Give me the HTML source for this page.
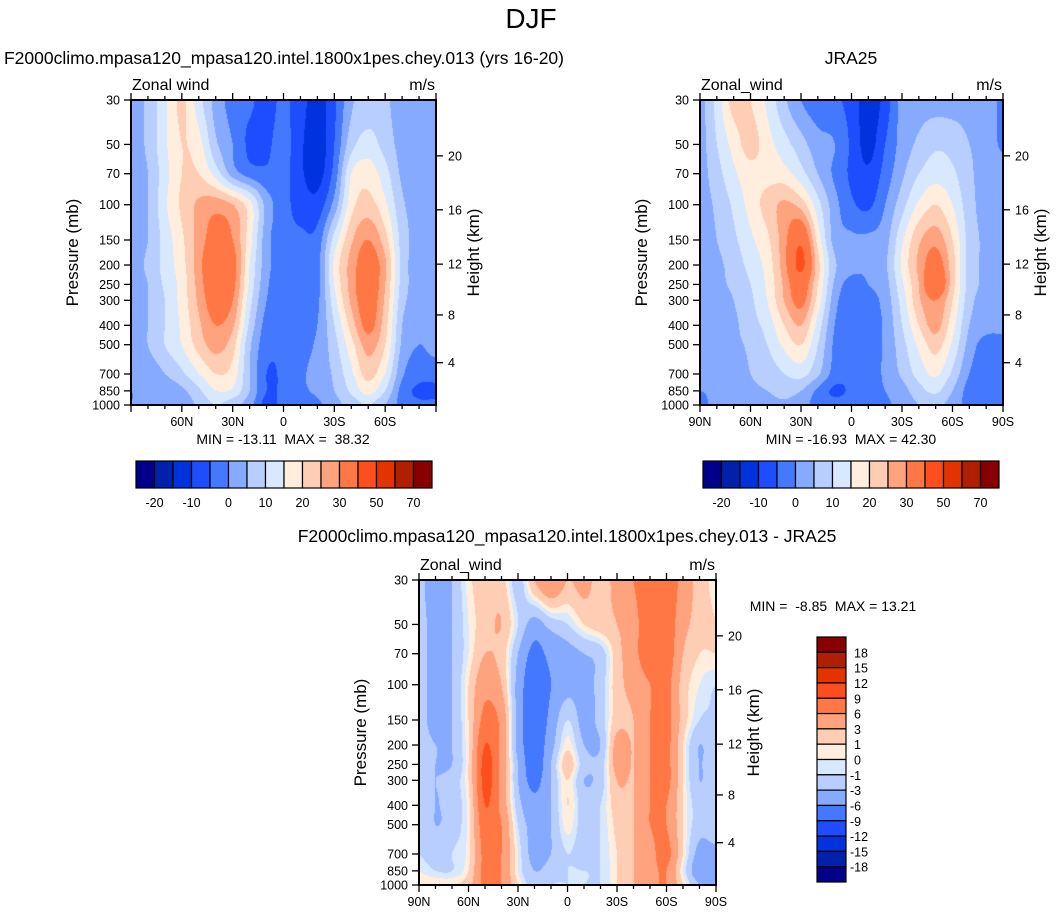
<!DOCTYPE html>
<html><head><meta charset="utf-8">
<style>
body{margin:0;background:#fff;width:1063px;height:915px;overflow:hidden;position:relative;font-family:"Liberation Sans",Arial,sans-serif;}
canvas{position:absolute;}
svg{position:absolute;left:0;top:0;}
text{white-space:pre;}
</style></head>
<body>
<canvas id="c1"></canvas>
<canvas id="c2"></canvas>
<canvas id="c3"></canvas>
<svg id="ov" width="1063" height="915"></svg>
<script>
const lats=[90,80,70,60,50,40,30,20,10,0,-10,-20,-30,-40,-50,-60,-70,-80,-90];
const plevels=[30,50,70,100,150,200,250,300,400,500,700,850,1000];
const modelRows=[
[3,6,14,21,12,3,-2,-4,-7,-4,-8,-12,-6,4,7,6,2,2,2],
[3,6,14,20,17,6,0,-6,-6,-3,-9,-13,-5,8,12,8,3,2,2],
[3,5,13,20,20,13,3,-2,-4,-3,-9,-12,-3,15,18,12,4,2,2],
[3,5,14,21,26,28,25,17,3,-3,-7,-8,2,18,22,16,6,3,3],
[3,5,12,19,27,33,30,17,2,-3,-4,-3,12,24,30,22,8,3,3],
[3,6,12,18,28,37,33,15,2,-3,-3,-2,16,27,34,26,8,3,3],
[3,5,11,17,27,36,32,14,1,-3,-3,-2,15,27,35,25,8,3,3],
[3,5,10,17,26,34,30,12,0,-3,-3,-1,13,26,34,24,7,3,3],
[2,5,10,16,24,30,26,9,-2,-3,-2,0,10,22,32,22,5,1,2],
[2,5,10,15,22,27,22,6,-3,-4,-2,1,8,18,27,20,4,0,2],
[1,2,5,9,15,20,18,5,-5,-4,-1,2,6,14,22,15,1,-3,-3],
[0,1,2,4,9,15,14,5,-5,-4,-1,1,5,11,17,10,-2,-6,-6],
[0,1,1,2,6,10,7,2,-7,-3,-2,-1,3,7,10,5,-2,-4,-4]];
const jraRows=[
[3,12,22,20,14,6,0,-3,-4,-7,-13,-8,2,3,3,3,3,2,-1],
[3,10,17,22,17,12,7,2,0,-6,-12,-5,2,6,9,8,5,3,-1],
[3,8,14,18,18,17,12,5,-1,-6,-9,-3,4,10,13,11,6,3,3],
[3,6,11,17,22,26,23,12,2,-4,-6,0,8,16,20,15,7,3,3],
[3,5,9,14,19,28,38,18,3,1,1,3,14,24,28,20,8,4,3],
[3,4,7,12,17,28,42,22,6,2,1,4,16,26,34,22,8,4,3],
[3,4,6,10,16,26,35,20,4,-2,0,3,14,25,38,22,8,4,3],
[3,3,5,9,15,25,32,18,2,-3,-2,2,12,24,30,20,7,3,3],
[3,3,4,8,12,20,25,13,0,-4,-3,1,10,20,27,17,5,2,1],
[3,3,4,6,10,16,20,10,-1,-4,-3,1,8,16,22,14,3,-2,-1],
[2,2,3,5,7,10,12,6,-2,-4,-3,1,6,12,16,9,0,-3,-2],
[0,1,2,4,5,7,5,-1,-6,-4,-2,0,3,8,11,5,-2,-3,-3],
[-1,1,1,2,3,4,2,-2,-3,-3,-2,-1,2,5,6,3,-2,-3,-3]];
const diffRows=[
[-2,-5,-3,0.5,2,2,-2,3,6,3,4,2,4,6,8,8,5,2,0.5],
[-2,-4,-3,0,2,3,-1,-4,-2,-1,1,2,3,5,8,8,4,2,1],
[-2,-4,-3,0,3,2,-3,-7,-5,-4,-3,-2,2,5,8,8,3,1,1],
[-2,-4,-3,1,5,3,-4,-8.5,-6,-4,-4,-2,2,4,6,7,2,0,-1],
[-2,-4,-3,1,7,5,-4,-8.5,-5,-1,-4,-2,2,3,6,7,2,-1,-1],
[-2,-3,-3,1,9,5,-4,-8,-4,0.5,-3,-3,4,3,6,7,1,-3,-1],
[-2,-3,-3,1,10,5,-3,-8,-3,2,-2,-2,4,3,6,7,1,-3,-1],
[-2,-3,-2,1,10,5,-3,-7,-3,1,-3,-2,3,3,6,7,1,-3,-1],
[-1,-3,-2,0.5,9,5,-2,-5,-3,1,-2,-1,2,3,6,6,1,-2,-2],
[-1,-3,-2,0.5,8,6,-1,-4,-3,0.5,-2,-1,1.5,3,6,6,1,-2,-1],
[-1,-2,-1,0.5,7,6,0,-4,-3,-1,-2,-1,1,3,5,7,1,-4,-4],
[0,-1,-1,1,7,6,0,-3,-2,-1,-1,-1,1,3,5,6,0,-5,-5],
[1,1,1,2,7,6,1,-2,-1,-1,-1,-1,1,3,5,6,1,-3,-3]];
const absLevels=[-20,-15,-10,-5,0,5,10,15,20,25,30,40,50,60,70];
const absLabels=["-20","-10","0","10","20","30","50","70"];
const diffLevels=[-18,-15,-12,-9,-6,-3,-1,0,1,3,6,9,12,15,18];
const palette=["#00008a","#0022aa","#0033dd","#1e4cff","#4479ff","#86aaff","#b8ceff","#d8e8ff","#ffeedd","#ffccb4","#ffa27e","#ff7744","#ff4e1e","#e23300","#b02000","#880000"];
const heightKm=[4,8,12,16,20];
const heightP=[615,355,198,106,57];
const ptickLabels=[30,50,70,100,150,200,250,300,400,500,700,850,1000];

const NS='http://www.w3.org/2000/svg';
const ov=document.getElementById('ov');
function el(tag,attrs,parent){const e=document.createElementNS(NS,tag);for(const k in attrs)e.setAttribute(k,attrs[k]);(parent||ov).appendChild(e);return e;}
function txt(s,x,y,size,anchor,name,extra){const t=el('text',Object.assign({x:x,y:y,'font-size':size,'text-anchor':anchor||'start','font-family':'Liberation Sans, Arial, sans-serif',fill:'#000'},extra||{}));t.textContent=s;


return t;}
function hex(c){return [parseInt(c.substr(1,2),16),parseInt(c.substr(3,2),16),parseInt(c.substr(5,2),16)];}
const pal=palette.map(hex);
function cr(p0,p1,p2,p3,t){return 0.5*((2*p1)+(-p0+p2)*t+(2*p0-5*p1+4*p2-p3)*t*t+(-p0+3*p1-3*p2+p3)*t*t*t);}
function interpRow(row,fx){const n=row.length;let i=Math.floor(fx);if(i>=n-1)i=n-2;if(i<0)i=0;const t=fx-i;
const g=k=>row[Math.max(0,Math.min(n-1,k))];return cr(g(i-1),g(i),g(i+1),g(i+2),t);}
function levelIndex(p){for(let i=0;i<plevels.length-1;i++){if(p<=plevels[i+1])return i+Math.log(p/plevels[i])/Math.log(plevels[i+1]/plevels[i]);}return plevels.length-1;}

function panel(cfg){
 const {x0,x1,y0,y1,rows,levels,cid,showEnds}=cfg;
 const W=Math.round(x1-x0),H=Math.round(y1-y0);
 const cv=document.getElementById(cid);cv.width=W;cv.height=H;cv.style.left=x0+'px';cv.style.top=y0+'px';
 const ctx=cv.getContext('2d');const img=ctx.createImageData(W,H);
 const L=Math.log(1000/30);
 for(let py=0;py<H;py++){
  const p=30*Math.exp((py+0.5)/H*L);const fi=levelIndex(p);
  let i=Math.floor(fi);if(i>=plevels.length-1)i=plevels.length-2;const t=fi-i;
  const rr=[i-1,i,i+1,i+2].map(k=>rows[Math.max(0,Math.min(rows.length-1,k))]);
  for(let px=0;px<W;px++){
   const lat=90-(px+0.5)/W*180;const fx=(90-lat)/10;
   const v=cr(interpRow(rr[0],fx),interpRow(rr[1],fx),interpRow(rr[2],fx),interpRow(rr[3],fx),t);
   let c=0;while(c<levels.length&&v>levels[c])c++;
   const o=(py*W+px)*4,col=pal[c];img.data[o]=col[0];img.data[o+1]=col[1];img.data[o+2]=col[2];img.data[o+3]=255;
  }
 }
 ctx.putImageData(img,0,0);
 const g=el('g',{});
 
 
 el('rect',{x:x0,y:y0,width:x1-x0,height:y1-y0,fill:'none',stroke:'#000','stroke-width':2},g);
 const xs=lat=>x0+(90-lat)/180*(x1-x0);
 const ys=p=>y0+Math.log(p/30)/L*(y1-y0);
 for(let lat=90;lat>=-90;lat-=10){const x=xs(lat);const maj=lat%30===0;const len=maj?7:4;
  el('line',{x1:x,y1:y1,x2:x,y2:y1+len,stroke:'#000','stroke-width':1.3},g);
  el('line',{x1:x,y1:y0,x2:x,y2:y0-len,stroke:'#000','stroke-width':1.3},g);
  if(maj&&(showEnds||Math.abs(lat)!==90)){const s=lat===0?'0':(Math.abs(lat)+(lat>0?'N':'S'));txt(s,x,y1+21,12.5,'middle','x-tick-label');}
 }
 ptickLabels.forEach(p=>{const y=ys(p);el('line',{x1:x0,y1:y,x2:x0-7,y2:y,stroke:'#000','stroke-width':1.3},g);txt(String(p),x0-11,y+4.5,12.5,'end','y-tick-label');});
 heightKm.forEach((k,i)=>{const y=ys(heightP[i]);el('line',{x1:x1,y1:y,x2:x1+7,y2:y,stroke:'#000','stroke-width':1.3},g);txt(String(k),x1+12,y+4.5,12.5,'start','height-tick-label');});
 const yc=(y0+y1)/2;
 txt('Pressure (mb)',x0-53,yc,17,'middle','y-axis-title',{transform:`rotate(-90 ${x0-53} ${yc})`});
 txt('Height (km)',x1+43,yc,17,'middle','right-axis-title',{transform:`rotate(-90 ${x1+43} ${yc})`});
 txt(cfg.varname,x0+1,y0-10,16,'start','variable-label');
 txt('m/s',x1-1,y0-10,16,'end','units-label');
}

txt('DJF',531,28,28,'middle','main-title');
txt('F2000climo.mpasa120_mpasa120.intel.1800x1pes.chey.013 (yrs 16-20)',284,64,17.5,'middle','model-panel-title');
txt('JRA25',851,64,17.5,'middle','jra-panel-title');
txt('F2000climo.mpasa120_mpasa120.intel.1800x1pes.chey.013 - JRA25',567,542,17.5,'middle','diff-panel-title');

panel({name:'model',x0:131,x1:436,y0:100,y1:405,rows:modelRows,levels:absLevels,cid:'c1',showEnds:false,varname:'Zonal wind'});
panel({name:'jra',x0:700,x1:1003,y0:100,y1:405,rows:jraRows,levels:absLevels,cid:'c2',showEnds:true,varname:'Zonal_wind'});
panel({name:'diff',x0:419,x1:716,y0:580,y1:885,rows:diffRows,levels:diffLevels,cid:'c3',showEnds:true,varname:'Zonal_wind'});

txt('MIN = -13.11  MAX =  38.32',283,444,14,'middle','model-min-max');
txt('MIN = -16.93  MAX = 42.30',851,444,14,'middle','jra-min-max');
txt('MIN =  -8.85  MAX = 13.21',833,611,14,'middle','diff-min-max');

function hbar(x0,x1,y0,y1,name){
 const g=el('g',{});
 
 
 const w=(x1-x0)/palette.length;
 palette.forEach((c,i)=>{const r=el('rect',{x:x0+i*w,y:y0,width:w,height:y1-y0,fill:c,stroke:'#000','stroke-width':1.2},g);
  
  });
 absLabels.forEach((s,j)=>{const i=2*j+1;txt(s,x0+i*w,y1+19,12.5,'middle','colorbar-label');});
}
hbar(136,432,461,488,'model-colorbar');
hbar(703,999,461,488,'jra-colorbar');
(function(){
 const x0=817,x1=846,y0=637,y1=882;const g=el('g',{});
 
 
 const h=(y1-y0)/palette.length;
 palette.slice().reverse().forEach((c,i)=>{const r=el('rect',{x:x0,y:y0+i*h,width:x1-x0,height:h,fill:c,stroke:'#000','stroke-width':1.2},g);
  
  });
 diffLevels.slice().reverse().forEach((v,i)=>{txt(String(v),v<0?850:854,y0+(i+1)*h+5,12.5,'start','colorbar-label');});
})();
</script>
</body></html>
